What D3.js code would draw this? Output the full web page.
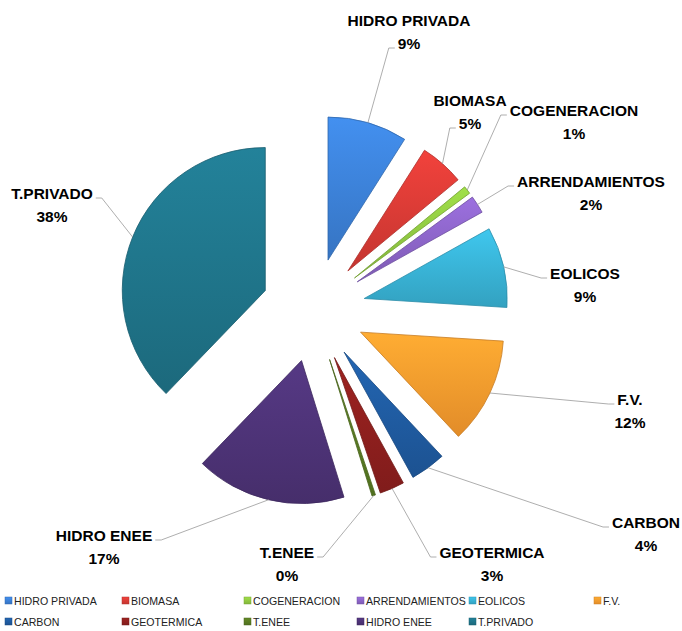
<!DOCTYPE html>
<html><head><meta charset="utf-8">
<script src="https://cdn.jsdelivr.net/npm/d3@7"></script>
<style>body{margin:0;background:#fff}svg{display:block}</style>
</head><body>
<svg id="c" width="682" height="631"></svg>
<script>
const categories = ["HIDRO PRIVADA","BIOMASA","COGENERACION","ARRENDAMIENTOS","EOLICOS","F.V.","CARBON","GEOTERMICA","T.ENEE","HIDRO ENEE","T.PRIVADO"];
const values = [9.0, 5.0, 0.9, 2.0, 9.1, 12.0, 4.0, 2.8, 0.4, 17.0, 37.8];
const colors = ["#3b7fd4","#d63a35","#8ec641","#8a63c5","#38b0d2","#f7992d","#1f5a9e","#8c1f1d","#587a22","#4c3275","#1f7388"];
// label anchor layout (centre x, first baseline y, line the leader attaches to)
const labelPos = [[409,26,2],[470,106,2],[574,116,1],[591,187,1],[585,279,1],[630,405,1],[646,528,1],[492,558,1],[287,558,1],[104,541,1],[52,199,1]];
// legend layout
const legendCols = [5,122,244,357,469,594];
const legendRows = [601,622];

const svg = d3.select("#c");
svg.append("rect").attr("width",682).attr("height",631).attr("fill","#fff");
const cx = 313.5, cy = 310, R = 143, E = 52;
const total = d3.sum(values);
const fmt = d3.format(".0%");

const defs = svg.append("defs");
colors.forEach((c,i)=>{
  const g = defs.append("linearGradient").attr("id","g"+i).attr("x1",0).attr("y1",0).attr("x2",0).attr("y2",1);
  g.append("stop").attr("offset","0%").attr("stop-color",d3.color(c).brighter(0.35));
  g.append("stop").attr("offset","100%").attr("stop-color",d3.color(c).darker(0.25));
});

const pie = d3.pie().sort(null).value(d=>d.v);
const data = pie(categories.map((k,i)=>({k, v: values[i], i})));
const arc = d3.arc().innerRadius(0).outerRadius(R);

const gSl = svg.append("g").attr("transform",`translate(${cx},${cy})`);
data.forEach(d=>{
  const mid = (d.startAngle+d.endAngle)/2;
  d.ox = E*Math.sin(mid); d.oy = -E*Math.cos(mid); d.mid = mid;
});
gSl.selectAll("path.sl").data(data).join("path").attr("class","sl")
  .attr("transform",d=>`translate(${d.ox},${d.oy})`)
  .attr("d",arc)
  .attr("fill",d=>`url(#g${d.data.i})`)
  .attr("stroke",d=>d3.color(colors[d.data.i]).darker(0.6))
  .attr("stroke-width",0.8).attr("stroke-linejoin","round");

// leader lines and labels
const gL = svg.append("g");
data.forEach(d=>{
  const i = d.data.i;
  const sx = cx + d.ox + R*Math.sin(d.mid), sy = cy + d.oy - R*Math.cos(d.mid);
  const [lx, ly, line] = labelPos[i];
  const g = gL.append("g");
  const t1 = g.append("text").attr("x",lx).attr("y",ly).attr("text-anchor","middle").text(categories[i]);
  const t2 = g.append("text").attr("x",lx).attr("y",ly+23).attr("text-anchor","middle").text(fmt(values[i]/total));
  g.selectAll("text").attr("font-family","'Liberation Sans',Arial,sans-serif").attr("font-weight","bold").attr("font-size","15.5px").attr("fill","#000");
  const w = (line===1 ? t1 : t2).node().getComputedTextLength();
  const ey = line===1 ? ly - 1 : ly + 22;
  const right = lx > sx;
  const ex = right ? lx - w/2 - 3 : lx + w/2 + 3;
  const bx = right ? ex - 6 : ex + 6;
  g.insert("path","text").attr("d",`M${sx},${sy}L${bx},${ey}L${ex},${ey}`)
    .attr("fill","none").attr("stroke","#999").attr("stroke-width",0.8);
});

// legend
const lg = svg.append("g");
categories.forEach((k,i)=>{
  const r = i < 6 ? 0 : 1, c = i < 6 ? i : i-6;
  const x = legendCols[c], y = legendRows[r];
  lg.append("rect").attr("x",x).attr("y",y-4).attr("width",7).attr("height",7)
    .attr("fill",`url(#g${i})`).attr("stroke",d3.color(colors[i]).darker(0.5)).attr("stroke-width",0.5);
  lg.append("text").attr("x",x+9).attr("y",y+4).text(k)
    .attr("font-family","'Liberation Sans',Arial,sans-serif").attr("font-size","10.6px").attr("fill","#222");
});
</script>
</body></html>
